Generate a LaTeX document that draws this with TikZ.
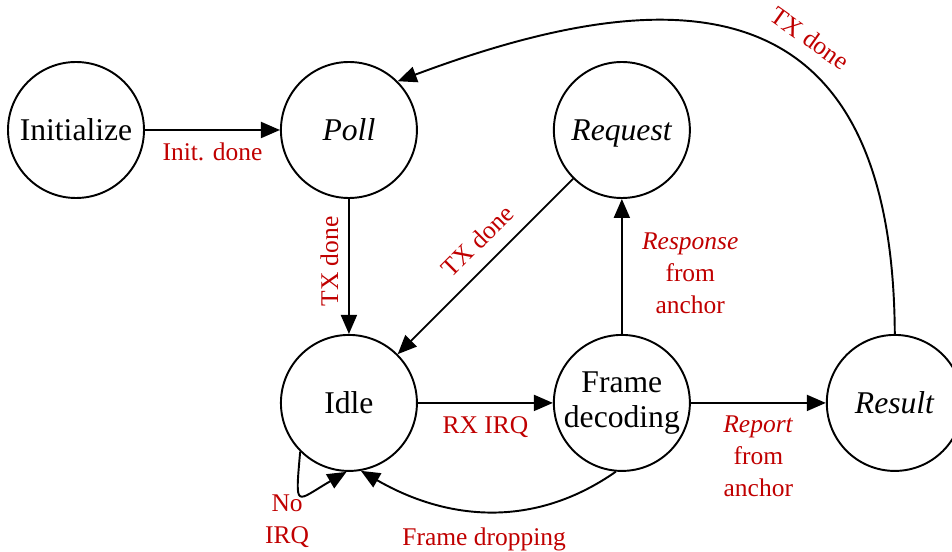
\documentclass[tikz,border=0pt]{standalone}
\usepackage{fontspec}
\setmainfont{Liberation Serif}
\usetikzlibrary{positioning,arrows.meta}
\definecolor{lblred}{RGB}{192,0,0}

\begin{document}
\begin{tikzpicture}[node distance=2.7cm,
  >={Triangle[length=3.8mm,width=3.2mm]},
  state/.style = {circle, draw, line width=1.1pt, minimum size=2.72cm, inner sep=0pt,
                  align=center, font=\fontsize{18}{19.5}\selectfont},
  trans/.style = {->, line width=1.1pt},
  lbl/.style = {text=lblred, font=\fontsize{14.5}{18}\selectfont, align=center, inner sep=3pt},
  ]
  \useasboundingbox (0,0) rectangle (19.04,11.02);
  \node[state] (init) at (1.52,8.42) {Initialize};
  \node[state, right=of init] (poll) {\textit{Poll}};
  \node[state, right=of poll, text depth=0pt] (request) {\textit{Request}};
  \node[state, below=of poll] (idle) {Idle};
  \node[state, right=of idle] (frame) {Frame\\decoding};
  \node[state, right=of frame] (result) {\textit{Result}};

  \draw[trans] (init) -- node[lbl, below=4pt] {Init. done} (poll);
  \draw[trans] (poll) -- node[lbl, rotate=90, anchor=south, outer sep=3pt, xshift=0.1cm] {TX done} (idle);
  \draw[trans] (request) -- node[lbl, pos=0.45, sloped, above=5pt] {TX done} (idle);
  \draw[trans] (idle) -- node[lbl, below=4pt] {RX IRQ} (frame);
  \draw[trans] (frame) -- node[lbl, pos=0.45, right=8pt] {\textit{Response}\\from\\anchor} (request);
  \draw[trans] (frame) -- node[lbl, below=4pt] {\textit{Report}\\from\\anchor} (result);
  \draw[trans] (result.north) .. controls +(-0.04,7.06) and +(5.6,2.1) .. (poll.45)
    node[lbl, pos=0.41, sloped, above=6pt] {TX done};
  \draw[trans] (frame.265) to[out=215, in=-30] node[lbl, below=6pt, xshift=-0.12cm] {Frame dropping} (idle.280);
  \draw[trans] (idle.225) to[out=265, in=210, looseness=3]
    node[lbl, pos=0.5, anchor=north, xshift=-0.3cm, yshift=0.06cm, inner sep=1pt] {No\\IRQ} (idle.268);
\end{tikzpicture}
\end{document}
